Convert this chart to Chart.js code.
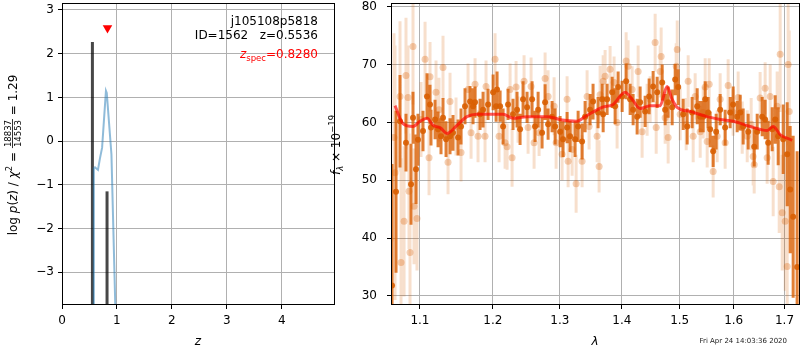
<!DOCTYPE html>
<html>
<head>
<meta charset="utf-8">
<title>p(z) and spectrum</title>
<script src="https://cdn.jsdelivr.net/npm/chart.js@4.4.1/dist/chart.umd.min.js"></script>
<style>
  html, body { margin: 0; padding: 0; background: #fff; }
  #wrap { position: relative; width: 800px; height: 350px; overflow: hidden; }
  canvas { position: absolute; top: 0; }
  #pzChart { left: 0; }
  #specChart { left: 325px; }
</style>
</head>
<body>
<div id="wrap">
  <canvas id="pzChart" width="340" height="350"></canvas>
  <canvas id="specChart" width="475" height="350"></canvas>
</div>
<script>
const FONT = '"DejaVu Sans", "Liberation Sans", sans-serif';
const font = (size, style) => (style ? style + ' ' : '') + size + 'px ' + FONT;

// ---- left panel: log p(z) ----
const zTicks = [0, 1, 2, 3, 4];
const pzTicks = [-3, -2, -1, 0, 1, 2, 3];
const zGrid = [0.57, 0.58, 0.60, 0.655, 0.69, 0.73, 0.80, 0.815, 0.90, 0.975];
const logPz = [-4.0, -0.62, -0.60, -0.66, -0.40, -0.15, 1.15, 1.10, -0.30, -4.0];
const zPeaks = [0.5536, 0.82];
const peakTops = [2.27, -1.15];
const zSpec = 0.828;
const zSpecMark = 2.59;

// ---- right panel: spectrum ----
const waveTicks = [1.1, 1.2, 1.3, 1.4, 1.5, 1.6, 1.7];
const fluxTicks = [30, 40, 50, 60, 70, 80];

const darkWave = [
  1.0639, 1.0690, 1.0741, 1.0818, 1.0883, 1.0909, 1.0948, 1.0974, 1.1040, 1.1093,
  1.1133, 1.1146, 1.1200, 1.1240, 1.1280, 1.1307, 1.1348, 1.1402, 1.1443, 1.1512,
  1.1553, 1.1608, 1.1678, 1.1720, 1.1748, 1.1818, 1.1861, 1.1932, 1.2004, 1.2047,
  1.2061, 1.2105, 1.2148, 1.2220, 1.2293, 1.2352, 1.2397, 1.2441, 1.2501, 1.2576,
  1.2621, 1.2667, 1.2727, 1.2773, 1.2819, 1.2880, 1.2927, 1.3004, 1.3050, 1.3113,
  1.3160, 1.3239, 1.3287, 1.3350, 1.3398, 1.3478, 1.3526, 1.3607, 1.3673, 1.3690,
  1.3755, 1.3838, 1.3887, 1.3937, 1.4004, 1.4071, 1.4138, 1.4189, 1.4257, 1.4308,
  1.4394, 1.4463, 1.4532, 1.4602, 1.4690, 1.4742, 1.4795, 1.4866, 1.4920, 1.4974,
  1.5063, 1.5135, 1.5225, 1.5317, 1.5372, 1.5427, 1.5464, 1.5519, 1.5556, 1.5612,
  1.5668, 1.5743, 1.5837, 1.5932, 1.5989, 1.6066, 1.6124, 1.6182, 1.6279, 1.6396,
  1.6455, 1.6553, 1.6612, 1.6672, 1.6752, 1.6813, 1.6873, 1.6974, 1.7055, 1.7116,
  1.7177, 1.7259
];
const darkFlux = [
  31.8, 48.0, 60.2, 56.5, 49.3, 60.8, 51.9, 57.0, 58.5, 64.5,
  63.1, 59.1, 60.5, 58.8, 57.6, 60.8, 57.1, 57.6, 58.2, 57.4,
  59.3, 62.8, 63.6, 62.8, 63.5, 61.4, 62.2, 63.1, 65.2, 62.8,
  65.7, 62.8, 59.3, 63.1, 61.4, 62.2, 58.8, 64.0, 62.6, 64.0,
  59.3, 62.2, 58.2, 63.5, 59.7, 61.0, 59.3, 58.4, 57.1, 59.1,
  57.6, 57.1, 59.3, 56.7, 61.0, 62.2, 63.6, 61.7, 64.0, 61.4,
  64.0, 65.2, 62.8, 66.1, 64.5, 67.1, 64.0, 62.2, 61.0, 63.5,
  61.9, 64.5, 66.2, 65.2, 66.9, 62.2, 63.5, 62.6, 67.4, 66.1,
  61.4, 59.3, 61.7, 62.8, 61.0, 61.0, 64.0, 61.7, 58.8, 55.0,
  58.4, 62.2, 59.1, 61.7, 63.1, 61.0, 61.7, 59.3, 58.4, 55.8,
  58.4, 61.0, 60.5, 56.5, 58.8, 60.5, 57.6, 57.1, 54.5, 48.4,
  43.7, 35.0
];
const darkErr = [
  21, 14, 8, 5, 7, 4.5, 6, 4.5, 3.5, 4,
  3.4, 3.1, 3.4, 3.1, 3.1, 3.4, 3.1, 3.1, 3.1, 3.1,
  3.1, 3.1, 2.7, 3.1, 2.7, 2.7, 3.1, 2.7, 3.1, 2.7,
  3.1, 2.7, 3.1, 2.7, 2.7, 3.1, 2.7, 3.1, 2.7, 3.1,
  2.7, 3.1, 2.7, 3.1, 2.7, 2.7, 3.1, 2.7, 3.1, 2.7,
  2.7, 3.1, 2.7, 3.1, 2.7, 2.7, 3.1, 2.7, 2.7, 3.1,
  2.7, 2.7, 3.1, 2.7, 2.7, 3.1, 2.7, 2.7, 3.1, 2.7,
  2.7, 3.1, 2.7, 2.7, 3.1, 2.7, 2.7, 3.1, 2.7, 3.1,
  2.7, 3.1, 2.7, 3.1, 2.7, 2.7, 3.1, 2.7, 3.1, 2.7,
  3.1, 2.7, 3.1, 2.7, 3.1, 2.7, 3.1, 3.1, 3.1, 3.4,
  3.1, 3.4, 3.4, 3.8, 3.8, 4.2, 5, 6, 9, 11,
  14, 20
];

const lightWave = [
  1.0664, 1.0677, 1.0741, 1.0754, 1.0793, 1.0818, 1.0844, 1.0857, 1.0870, 1.0909,
  1.0922, 1.0961, 1.1014, 1.1067, 1.1120, 1.1133, 1.1213, 1.1253, 1.1307, 1.1375,
  1.1402, 1.1484, 1.1553, 1.1650, 1.1692, 1.1748, 1.1790, 1.1889, 1.1903, 1.2032,
  1.2090, 1.2177, 1.2206, 1.2250, 1.2279, 1.2338, 1.2367, 1.2456, 1.2516, 1.2561,
  1.2606, 1.2682, 1.2773, 1.2819, 1.2911, 1.2942, 1.3035, 1.3113, 1.3129, 1.3192,
  1.3255, 1.3350, 1.3430, 1.3462, 1.3591, 1.3624, 1.3640, 1.3690, 1.3722, 1.3804,
  1.3870, 1.3920, 1.4071, 1.4104, 1.4172, 1.4274, 1.4342, 1.4428, 1.4480, 1.4567,
  1.4585, 1.4655, 1.4672, 1.4742, 1.4795, 1.4938, 1.4956, 1.5009, 1.5117, 1.5153,
  1.5244, 1.5280, 1.5372, 1.5427, 1.5464, 1.5501, 1.5538, 1.5612, 1.5687, 1.5743,
  1.5837, 1.5894, 1.5989, 1.6085, 1.6163, 1.6260, 1.6337, 1.6376, 1.6396, 1.6513,
  1.6612, 1.6652, 1.6712, 1.6772, 1.6852, 1.6893, 1.6913, 1.6954, 1.7015, 1.7055,
  1.7075, 1.7096
];
const lightFlux = [
  57.4, 51.3, 64.5, 35.8, 42.9, 68.1, 64.3, 48.1, 37.5, 73.1,
  45.5, 43.4, 60.5, 70.9, 53.9, 67.9, 65.2, 62.2, 69.5, 53.1,
  63.6, 59.3, 54.8, 65.7, 58.2, 66.6, 57.6, 57.6, 66.2, 70.9,
  57.6, 56.5, 55.8, 65.7, 53.9, 66.1, 60.5, 67.1, 59.1, 66.2,
  56.5, 58.2, 67.6, 64.5, 62.8, 56.5, 54.5, 64.0, 53.3, 55.3,
  49.4, 53.3, 64.5, 59.3, 57.6, 52.4, 64.8, 67.1, 68.0, 69.2,
  66.9, 60.0, 70.6, 69.7, 65.7, 68.8, 58.4, 62.2, 64.0, 73.8,
  59.1, 68.8, 71.4, 60.8, 57.4, 69.7, 72.6, 61.4, 59.7, 67.1,
  57.6, 64.5, 58.4, 61.7, 66.1, 56.7, 66.6, 51.5, 57.6, 64.0,
  56.5, 66.4, 61.7, 64.3, 59.1, 57.6, 59.7, 54.1, 52.7, 64.2,
  65.9, 53.9, 64.5, 49.8, 62.8, 48.9, 71.8, 44.4, 42.9, 35.1,
  70.0, 61.9
];
const lightErr = [
  18, 22, 13, 18, 13, 10, 9, 10, 13, 10,
  10, 9, 6.5, 6.5, 6.5, 6, 5.5, 5.5, 5.5, 5.5,
  5, 5, 5, 4.5, 4.5, 4.5, 4.5, 4.5, 4.5, 4.5,
  4.5, 4.5, 4.0, 4.5, 5.0, 4.5, 4.0, 4.5, 4.5, 5.0,
  4.5, 4.0, 4.5, 4.5, 5.0, 4.5, 4.5, 4.0, 4.5, 4.5,
  5.0, 4.5, 4.5, 4.0, 4.5, 4.5, 5.0, 4.5, 4.5, 4.0,
  4.5, 4.5, 5.0, 4.5, 4.0, 4.5, 4.5, 4.5, 4.0, 5.0,
  4.5, 4.5, 5.0, 4.5, 4.5, 4.0, 5.0, 4.5, 4.5, 4.5,
  4.5, 4.0, 4.5, 4.5, 5.0, 4.5, 4.5, 4.5, 4.5, 4.5,
  4.5, 4.5, 4.0, 4.5, 4.5, 4.5, 4.5, 5.0, 5.0, 4.5,
  4.5, 4.5, 5.5, 6, 6, 8, 10, 10, 12, 13,
  14, 14
];

const modelWave = [
  1.0677, 1.0779, 1.0909, 1.1001, 1.1093, 1.1173, 1.1267, 1.1361, 1.1498, 1.1636,
  1.1776, 1.2148, 1.2293, 1.2501, 1.2818, 1.3035, 1.3271, 1.3398, 1.3673, 1.3853,
  1.4054, 1.4172, 1.4308, 1.4479, 1.4653, 1.4776, 1.4865, 1.4954, 1.5188, 1.5500,
  1.5744, 1.5989, 1.6317, 1.6652, 1.6772, 1.6913, 1.7157
];
const modelFlux = [
  62.9, 59.8, 59.3, 60.2, 60.7, 59.5, 59.1, 58.1, 59.5, 61.0,
  61.4, 61.4, 60.7, 61.0, 61.0, 60.4, 60.2, 61.0, 62.6, 63.1,
  65.2, 64.0, 62.4, 62.9, 62.9, 66.2, 64.0, 62.6, 61.9, 61.0,
  60.5, 60.2, 59.3, 58.6, 59.3, 57.9, 56.9
];

// ---- helpers ----
const minus = v => (v < 0 ? '\u2212' + Math.abs(v) : String(v));
const pts = (xs, ys) => xs.map((x, i) => ({ x, y: ys[i] }));
const errBars = (xs, ys, es) =>
  xs.flatMap((x, i) => [{ x, y: ys[i] - es[i] }, { x, y: ys[i] + es[i] }, { x, y: null }]);

function partWidth(ctx, p) {
  ctx.font = p.font;
  if (p.frac) return Math.max(...p.frac.map(s => ctx.measureText(s).width)) + 2;
  return ctx.measureText(p.t).width;
}

// draws a row of text pieces (italic, sub/superscripts, fraction)
function drawRich(ctx, parts, x, y, align) {
  const total = parts.reduce((s, p) => s + partWidth(ctx, p), 0);
  let cx = align === 'right' ? x - total : align === 'center' ? x - total / 2 : x;
  ctx.textAlign = 'left';
  ctx.textBaseline = 'alphabetic';
  for (const p of parts) {
    const w = partWidth(ctx, p);
    ctx.font = p.font;
    ctx.fillStyle = p.color || '#000';
    if (p.frac) {
      const [num, den] = p.frac;
      ctx.fillText(num, cx + (w - ctx.measureText(num).width) / 2, y - 6.5);
      ctx.fillText(den, cx + (w - ctx.measureText(den).width) / 2, y + 3.8);
      ctx.fillRect(cx, y - 4.8, w, 0.8);
    } else {
      ctx.fillText(p.t, cx, y + (p.dy || 0));
    }
    cx += w;
  }
}

// black box round the plot area
const framePlugin = {
  id: 'frame',
  afterDatasetsDraw(chart) {
    const { ctx, chartArea: a } = chart;
    ctx.save();
    ctx.strokeStyle = '#000';
    ctx.lineWidth = 1;
    ctx.strokeRect(a.left + 0.5, a.top + 0.5, a.right - a.left - 1, a.bottom - a.top - 1);
    ctx.restore();
  }
};

const pzText = {
  id: 'pzText',
  afterDraw(chart) {
    const ctx = chart.ctx;
    ctx.save();
    drawRich(ctx, [{ t: 'j105108p5818', font: font(12) }], 318, 25, 'right');
    drawRich(ctx, [{ t: 'ID=1562   z=0.5536', font: font(12) }], 318, 39, 'right');
    drawRich(ctx, [
      { t: 'z', font: font(12, 'italic'), color: '#ff0000' },
      { t: 'spec', font: font(8.5), dy: 2.5, color: '#ff0000' },
      { t: '=0.8280', font: font(12), color: '#ff0000' }
    ], 318, 58, 'right');
    drawRich(ctx, [{ t: 'z', font: font(12, 'italic') }], 198, 345, 'center');

    ctx.translate(17, 155);
    ctx.rotate(-Math.PI / 2);
    drawRich(ctx, [
      { t: 'log ', font: font(12) },
      { t: 'p', font: font(12, 'italic') },
      { t: '(', font: font(12) },
      { t: 'z', font: font(12, 'italic') },
      { t: ') / ', font: font(12) },
      { t: '\u03c7', font: font(12, 'italic') },
      { t: '2', font: font(8.5), dy: -5 },
      { t: ' = ', font: font(12) },
      { frac: ['18837', '14553'], font: font(8.5) },
      { t: ' = 1.29', font: font(12) }
    ], 0, 0, 'center');
    ctx.restore();
  }
};

const specText = {
  id: 'specText',
  afterDraw(chart) {
    const ctx = chart.ctx;
    ctx.save();
    drawRich(ctx, [{ t: '\u03bb', font: font(12, 'italic') }], 270, 345, 'center');
    drawRich(ctx, [{ t: 'Fri Apr 24 14:03:36 2020', font: font(7), color: '#222' }], 462, 343, 'right');
    ctx.translate(15, 145);
    ctx.rotate(-Math.PI / 2);
    drawRich(ctx, [
      { t: 'f', font: font(12, 'italic') },
      { t: '\u03bb', font: font(8.5, 'italic'), dy: 3 },
      { t: ' \u00d7 10', font: font(12) },
      { t: '\u221219', font: font(8.5), dy: -5 }
    ], 0, 0, 'center');
    ctx.restore();
  }
};

const gridOpts = { color: '#b0b0b0', lineWidth: 1, tickLength: 4, tickColor: '#000', tickWidth: 1 };
const tickFont = { family: FONT, size: 12 };

// ---- left chart ----
new Chart(document.getElementById('pzChart'), {
  type: 'line',
  data: {
    datasets: [
      ...zPeaks.map((z, i) => ({
        data: [{ x: z, y: -5 }, { x: z, y: peakTops[i] }],
        borderColor: 'rgba(0,0,0,0.72)',
        borderWidth: 3,
        pointRadius: 0,
        clip: 0,
        order: 3
      })),
      {
        data: pts(zGrid, logPz),
        borderColor: 'rgba(31,119,180,0.5)',
        borderWidth: 2,
        pointRadius: 0,
        tension: 0,
        clip: 0,
        order: 1
      },
      {
        data: [{ x: zSpec, y: zSpecMark }],
        showLine: false,
        pointStyle: 'triangle',
        rotation: 180,
        pointRadius: 5.5,
        pointBorderWidth: 0,
        pointBackgroundColor: '#ff0000',
        clip: 0,
        order: 0
      }
    ]
  },
  options: {
    responsive: false,
    animation: false,
    events: [],
    layout: { autoPadding: false, padding: { left: 0, right: 5, top: 3, bottom: 0 } },
    plugins: { legend: { display: false }, tooltip: { enabled: false } },
    scales: {
      x: {
        type: 'linear', min: 0, max: 4.97,
        afterBuildTicks: s => { s.ticks = zTicks.map(v => ({ value: v })); },
        afterFit: s => { s.height = 45; s.paddingLeft = 0; s.paddingRight = 0; },
        grid: gridOpts,
        border: { display: false },
        ticks: { color: '#000', font: tickFont, padding: 5, maxRotation: 0, callback: v => minus(v) }
      },
      y: {
        type: 'linear', min: -3.75, max: 3.16,
        afterBuildTicks: s => { s.ticks = pzTicks.map(v => ({ value: v })); },
        afterFit: s => { s.width = 62; s.paddingTop = 0; s.paddingBottom = 0; },
        grid: gridOpts,
        border: { display: false },
        ticks: { color: '#000', font: tickFont, padding: 4, callback: v => minus(v) }
      }
    }
  },
  plugins: [framePlugin, pzText]
});

// ---- right chart ----
const orange = a => 'rgba(217,95,2,' + a + ')';
new Chart(document.getElementById('specChart'), {
  type: 'line',
  data: {
    datasets: [
      {
        data: pts(modelWave, modelFlux),
        borderColor: 'rgba(255,0,0,0.65)',
        borderWidth: 3,
        pointRadius: 0,
        cubicInterpolationMode: 'monotone',
        clip: 0,
        order: 0
      },
      {
        data: pts(darkWave, darkFlux),
        showLine: false,
        pointRadius: 3,
        pointBorderWidth: 0,
        pointBackgroundColor: orange(0.9),
        clip: 0,
        order: 1
      },
      {
        data: errBars(darkWave, darkFlux, darkErr),
        borderColor: orange(0.8),
        borderWidth: 3,
        borderCapStyle: 'butt',
        pointRadius: 0,
        spanGaps: false,
        clip: 0,
        order: 2
      },
      {
        data: pts(lightWave, lightFlux),
        showLine: false,
        pointRadius: 3.5,
        pointBorderWidth: 0,
        pointBackgroundColor: orange(0.3),
        clip: 0,
        order: 3
      },
      {
        data: errBars(lightWave, lightFlux, lightErr),
        borderColor: orange(0.2),
        borderWidth: 3,
        borderCapStyle: 'butt',
        pointRadius: 0,
        spanGaps: false,
        clip: 0,
        order: 4
      }
    ]
  },
  options: {
    responsive: false,
    animation: false,
    events: [],
    layout: { autoPadding: false, padding: { left: 0, right: 0, top: 3, bottom: 0 } },
    plugins: { legend: { display: false }, tooltip: { enabled: false } },
    scales: {
      x: {
        type: 'logarithmic', min: 1.0626, max: 1.7318,
        afterBuildTicks: s => { s.ticks = waveTicks.map(v => ({ value: v })); },
        afterFit: s => { s.height = 45; s.paddingLeft = 0; s.paddingRight = 0; },
        grid: gridOpts,
        border: { display: false },
        ticks: { color: '#000', font: tickFont, padding: 5, maxRotation: 0, callback: v => Number(v).toFixed(1) }
      },
      y: {
        type: 'linear', min: 28.44, max: 80.64,
        afterBuildTicks: s => { s.ticks = fluxTicks.map(v => ({ value: v })); },
        afterFit: s => { s.width = 66; s.paddingTop = 0; s.paddingBottom = 0; },
        grid: gridOpts,
        border: { display: false },
        ticks: { color: '#000', font: tickFont, padding: 10, callback: v => String(v) }
      }
    }
  },
  plugins: [framePlugin, specText]
});
</script>
</body>
</html>
